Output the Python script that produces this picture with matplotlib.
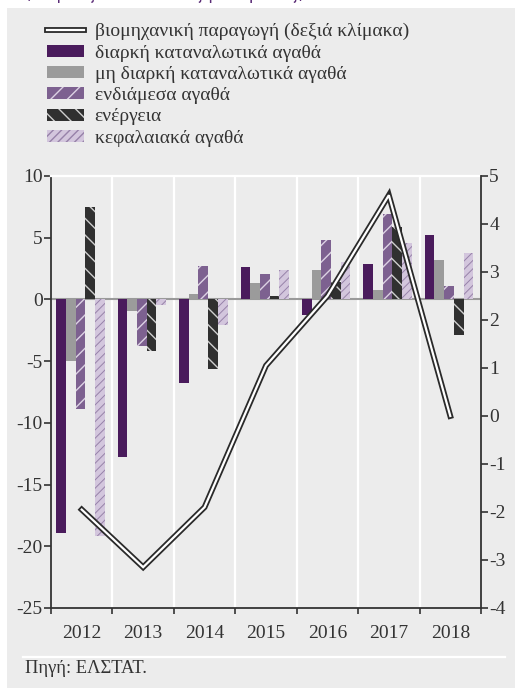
import numpy as np
import matplotlib
matplotlib.use("Agg")
import matplotlib.pyplot as plt
from matplotlib.patches import Rectangle, Patch
from matplotlib.lines import Line2D
import matplotlib.patheffects as pe

years = ["2012", "2013", "2014", "2015", "2016", "2017", "2018"]

durable = [-18.9, -12.8, -6.8, 2.6, -1.3, 2.9, 5.2]
nondurable = [-5.0, -0.9, 0.4, 1.35, 2.4, 0.75, 3.2]
intermediate = [-8.9, -3.8, 2.7, 2.1, 4.8, 6.9, 1.1]
energy = [7.5, -4.2, -5.6, 0.3, 1.4, 5.9, -2.9]
capital = [-19.2, -0.45, -2.1, 2.4, 3.0, 4.6, 3.8]
industry = [-1.95, -3.15, -1.9, 1.05, 2.5, 4.6, 0.0]

labels = ["διαρκή καταναλωτικά αγαθά", "μη διαρκή καταναλωτικά αγαθά",
          "ενδιάμεσα αγαθά", "ενέργεια", "κεφαλαιακά αγαθά"]
line_label = "βιομηχανική παραγωγή (δεξιά κλίμακα)"

plt.rcParams['font.family'] = ['Liberation Serif', 'DejaVu Serif']
plt.rcParams['axes.unicode_minus'] = False
plt.rcParams['hatch.linewidth'] = 1.0

bg = '#ececec'
txt = '#333333'
fs = 14
styles = [
    dict(color='#4a1b5c', edgecolor='#4a1b5c', hatch=None, hlw=1.0),
    dict(color='#9b9b9b', edgecolor='#9b9b9b', hatch=None, hlw=1.0),
    dict(color='#7d6190', edgecolor='#dcd2e4', hatch='//', hlw=1.0),
    dict(color='#303030', edgecolor='#cfcfcf', hatch='\\\\', hlw=1.0),
    dict(color='#d3c6dd', edgecolor='#9782a9', hatch='////', hlw=0.7),
]

fig = plt.figure(figsize=(5.15, 6.88), dpi=100)
fig.patch.set_facecolor('white')
fig.patches.append(Rectangle((7/515, 0), 1, 1 - 8/688, transform=fig.transFigure,
                             facecolor=bg, edgecolor='none', zorder=-10))
# subtitle, cut off at the top edge as in the original
fig.text(25/515, 1 + 1/688, "(ετήσιες ποσοστιαίες μεταβολές)", color='#5b2d77',
         fontsize=12, family=['DejaVu Sans'], va='baseline')

ax = fig.add_axes([51/515, 1 - 608/688, 430/515, 432/688])
ax.set_facecolor('none')
x = np.arange(len(years))
w = 0.158
series = [durable, nondurable, intermediate, energy, capital]
for i, (vals, st) in enumerate(zip(series, styles)):
    with plt.rc_context({'hatch.linewidth': st['hlw']}):
        ax.bar(x + (i - 2) * w - 0.02, vals, w, color=st['color'], edgecolor=st['edgecolor'],
               hatch=st['hatch'], linewidth=0, zorder=3)

ax.axhline(0, color='#9a9a9a', lw=1.5, zorder=2)
for b in np.arange(0.5, 6.5, 1):
    ax.axvline(b, color='white', lw=1.6, zorder=1)

ax.set_xlim(-0.5, 6.5)
ax.set_ylim(-25, 10)
ax.set_yticks([10, 5, 0, -5, -10, -15, -20, -25])
ax.set_xticks(np.arange(-0.5, 7, 1))
ax.set_xticklabels([])
ax.set_xticks(x, minor=True)
ax.set_xticklabels(years, minor=True)
ax.tick_params(axis='x', which='major', direction='out', length=4, width=1.2, color=txt)
ax.tick_params(axis='x', which='minor', length=0, pad=12, labelsize=fs, labelcolor=txt)
ax.tick_params(axis='y', direction='out', length=5, width=1.2, color=txt,
               labelsize=fs, labelcolor=txt, pad=1)
ax.spines['top'].set_color('white')
ax.spines['top'].set_linewidth(1.6)
ax.spines['right'].set_visible(False)
for s in ['left', 'bottom']:
    ax.spines[s].set_color(txt)
    ax.spines[s].set_linewidth(1.3)

ax2 = ax.twinx()
ax2.set_ylim(-4, 5)
ax2.set_yticks(range(5, -5, -1))
ax2.tick_params(axis='y', direction='out', length=5, width=1.2, color=txt,
                labelsize=fs, labelcolor=txt, pad=1)
for s in ['left', 'top', 'bottom']:
    ax2.spines[s].set_visible(False)
ax2.spines['right'].set_color(txt)
ax2.spines['right'].set_linewidth(1.3)
dbl = [pe.Stroke(linewidth=4.2, foreground='#2a2a2a'), pe.Normal()]
ln, = ax2.plot(x, industry, color='white', lw=1.6, zorder=5, path_effects=dbl,
               solid_joinstyle='miter')

handles = [Line2D([0], [0], color='white', lw=1.6, path_effects=dbl)]
for st in styles:
    with plt.rc_context({'hatch.linewidth': st['hlw']}):
        handles.append(Patch(facecolor=st['color'], edgecolor=st['edgecolor'],
                             hatch=st['hatch'], linewidth=0))
fig.legend(handles, [line_label] + labels, loc='upper left',
           bbox_to_anchor=(47/515, 1 - 23/688), frameon=False, fontsize=fs,
           labelcolor=txt, handlelength=1.9, handleheight=0.57, handletextpad=0.55,
           labelspacing=0.22, borderpad=0, borderaxespad=0)

fig.add_artist(Line2D([23/515, 505/515], [1 - 657/688, 1 - 657/688],
                      transform=fig.transFigure, color='white', lw=1.6))
fig.text(25/515, 1 - 673/688, "Πηγή: ΕΛΣΤΑΤ.", fontsize=13.3, color=txt, va='baseline')

fig.savefig("out.png", dpi=100)
